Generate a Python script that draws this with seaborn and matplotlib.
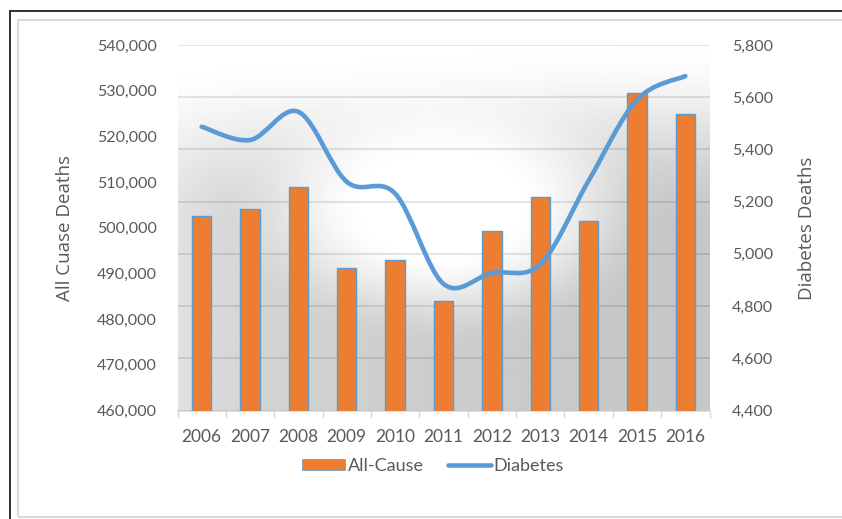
import numpy as np
import pandas as pd
import seaborn as sns
import matplotlib
matplotlib.use("Agg")
import matplotlib.pyplot as plt
from matplotlib.path import Path
from matplotlib.patches import PathPatch, Patch, Rectangle
from matplotlib.lines import Line2D
from matplotlib.ticker import FuncFormatter, FixedLocator

# ---- data ----
years = ['2006', '2007', '2008', '2009', '2010', '2011', '2012', '2013', '2014', '2015', '2016']
all_cause = [502500, 504000, 509000, 491100, 493000, 483900, 499200, 506800, 501400, 529400, 524900]
diabetes = [5487, 5436, 5544, 5276, 5231, 4885, 4927, 4960, 5280, 5590, 5681]
left_ticks = [460000, 470000, 480000, 490000, 500000, 510000, 520000, 530000, 540000]
right_ticks = [4400, 4600, 4800, 5000, 5200, 5400, 5600, 5800]

sns.set_theme(style="white")
plt.rcParams['font.family'] = ['Lato', 'DejaVu Sans']

TXT = '#595959'
ORANGE = '#ed7d31'
BLUE = '#5b9bd5'
GRID = '#d9d9d9'

W, H = 842, 519
fig = plt.figure(figsize=(W / 100, H / 100), dpi=100)

# outer frame
fig.add_artist(Line2D([10 / W, 1], [1 - 11 / H, 1 - 11 / H], color='#222222', lw=1.3))
fig.add_artist(Line2D([10 / W, 10 / W], [0, 1 - 11 / H], color='#222222', lw=1.3))
fig.add_artist(Rectangle((18 / W, 2.5 / H), 1.2, (H - 20 - 2.5) / H, fill=False,
                         edgecolor='#d9d9d9', lw=1.5))

left, right, top, bottom = 177.5, 709.5, 45, 410.5
ax_grid = fig.add_axes([left / W, 1 - bottom / H, (right - left) / W, (bottom - top) / H])

# background gradient (axes coordinates)
gw, gh = int(right - left), int(bottom - top)
xx, yy = np.meshgrid(np.arange(gw), np.arange(gh))
def smooth(t):
    t = np.clip(t, 0, 1)
    return t * t * (3 - 2 * t)
r = np.sqrt(((xx - 265) / 240.0) ** 2 + ((yy - 160) / 150.0) ** 2)
dr = smooth((r - 0.3) / 0.65)
dv = smooth((yy - 10) / 170.0) * 0.8 + 0.2 * smooth(xx / 532.0) * smooth((yy + 20) / 120.0)
edge = 1 - 0.35 * np.exp(-xx / 45.0)
dark = 0.22 * dr * np.clip(dv, 0, 1) * edge
img = 1 - dark
ax_grid.imshow(img, cmap='gray', vmin=0, vmax=1, extent=[0, 1, 0, 1],
               transform=ax_grid.transAxes, aspect='auto', zorder=0, interpolation='bilinear')

ax_grid.set_ylim(4400, 5800)
ax_grid.set_yticks(right_ticks)
ax_grid.yaxis.grid(True, color='black', alpha=0.12, lw=1.2)
ax_grid.set_axisbelow(False)
ax_grid.tick_params(axis='y', length=0, labelleft=False, labelright=False)
for s in ['top', 'right', 'left']:
    ax_grid.spines[s].set_visible(False)
ax_grid.spines['bottom'].set_color(GRID)
ax_grid.spines['bottom'].set_linewidth(1.2)

# bars
ax_bar = ax_grid.twinx()
df = pd.DataFrame({'year': years, 'deaths': all_cause})
sns.barplot(data=df, x='year', y='deaths', ax=ax_bar, color=ORANGE, saturation=1,
            width=0.4, edgecolor=BLUE, linewidth=1.0, zorder=3)
ax_bar.set_ylim(460000, 540000)
ax_bar.yaxis.tick_left()
ax_bar.yaxis.set_label_position('left')
ax_bar.set_yticks(left_ticks)
ax_bar.yaxis.set_major_formatter(FuncFormatter(lambda v, p: f"{int(v):,}"))
ax_bar.tick_params(axis='y', length=0, pad=15, labelsize=11.5, labelcolor=TXT)
ax_bar.set_xlabel('')
ax_bar.set_ylabel('')
for s in ax_bar.spines.values():
    s.set_visible(False)

# line (smoothed Bezier through the data points)
ax_line = ax_grid.twinx()
ax_line.set_ylim(4400, 5800)
pts = np.column_stack([np.arange(len(diabetes)), np.array(diabetes, dtype=float)])
n = len(pts)
verts = [pts[0]]
codes = [Path.MOVETO]
for i in range(n - 1):
    p0 = pts[i - 1] if i > 0 else pts[i]
    p1 = pts[i]
    p2 = pts[i + 1]
    p3 = pts[i + 2] if i + 2 < n else pts[i + 1]
    verts += [p1 + (p2 - p0) / 6.0, p2 - (p3 - p1) / 6.0, p2]
    codes += [Path.CURVE4] * 3
ax_line.add_patch(PathPatch(Path(verts, codes), fill=False, edgecolor=BLUE, lw=3.3,
                            capstyle='round', joinstyle='round', zorder=4))
ax_line.set_yticks(right_ticks)
ax_line.yaxis.set_major_formatter(FuncFormatter(lambda v, p: f"{int(v):,}"))
ax_line.tick_params(axis='y', length=0, pad=16, labelsize=11.5, labelcolor=TXT)
for s in ax_line.spines.values():
    s.set_visible(False)

# x axis
ax_grid.set_xlim(-0.5, len(years) - 0.5)
ax_bar.set_xlim(-0.5, len(years) - 0.5)
ax_line.set_xlim(-0.5, len(years) - 0.5)
ax_grid.set_xticks(range(len(years)))
ax_grid.set_xticklabels(years)
ax_grid.xaxis.set_minor_locator(FixedLocator(np.arange(-0.5, len(years), 1.0)))
ax_grid.tick_params(axis='x', which='major', length=0, pad=13, labelsize=12.5, labelcolor=TXT)
ax_grid.tick_params(axis='x', which='minor', length=5, width=1, color=GRID, direction='out', bottom=True)

# axis titles
fig.text(65 / W, 1 - 228 / H, 'All Cuase Deaths', rotation=90, ha='center', va='center',
         color=TXT, fontsize=13.5, family=['Open Sans', 'DejaVu Sans'])
fig.text(807 / W, 1 - 228 / H, 'Diabetes Deaths', rotation=90, ha='center', va='center',
         color=TXT, fontsize=13.5, family=['Open Sans', 'DejaVu Sans'])

# legend
handles = [Patch(facecolor=ORANGE, edgecolor=BLUE, linewidth=0.5),
           Line2D([0], [0], color=BLUE, lw=3.3)]
fig.legend(handles, ['All-Cause', 'Diabetes'], loc='center', bbox_to_anchor=(433 / W, 1 - 466 / H),
           ncol=2, frameon=False, fontsize=13, labelcolor=TXT, handlelength=2.4,
           handleheight=0.6, handletextpad=0.15, columnspacing=1.3)

fig.savefig('out.png', dpi=100)
